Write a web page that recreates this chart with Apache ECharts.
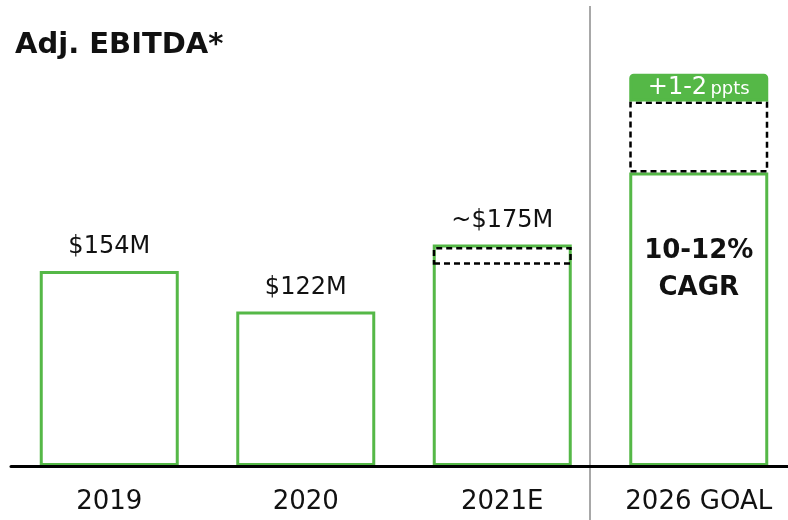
<!DOCTYPE html>
<html>
<head>
<meta charset="utf-8">
<title>Adj. EBITDA</title>
<script src="https://cdn.jsdelivr.net/npm/echarts@6/dist/echarts.min.js"></script>
<style>
  html, body { margin: 0; padding: 0; background: #ffffff; }
  #chart { width: 788px; height: 520px; }
</style>
</head>
<body>
<div id="chart"></div>
<script>
// Adj. EBITDA by year, $M
const categories = ['2019', '2020', '2021E', '2026 GOAL'];
const ebitda = [154, 122, 175, 232];          // solid outlined bars
const valueLabels = ['$154M', '$122M', '~$175M', ''];
const estimateLow = ['-', '-', 159, 232];      // dashed estimate range, lower end
const estimateHigh = ['-', '-', 173, 288];     // dashed estimate range, upper end
const upliftHigh = ['-', '-', '-', 310];       // top of the "+1-2 ppts" uplift band
const goalText = ['10-12%', 'CAGR'];
const upliftText = ['+1-2', 'ppts'];

const GREEN = '#55b847';
const INK = '#111111';
const FONT = '"DejaVu Sans", "Noto Sans", sans-serif';
const BAR_W = 139;

const estimateSpan = estimateLow.map((v, i) =>
  v === '-' ? '-' : estimateHigh[i] - v);
const upliftSpan = upliftHigh.map((v, i) =>
  v === '-' ? '-' : v - estimateHigh[i]);

const mainData = ebitda.map((v, i) => {
  if (i === categories.length - 1) {
    return {
      value: v,
      label: {
        show: true,
        position: ['50%', 60],
        align: 'center',
        verticalAlign: 'top',
        formatter: goalText.join('\n'),
        fontFamily: FONT,
        fontWeight: 'bold',
        fontSize: 26,
        lineHeight: 37,
        color: INK
      }
    };
  }
  return v;
});

const chart = echarts.init(document.getElementById('chart'), null, { renderer: 'canvas' });

chart.setOption({
  animation: false,
  backgroundColor: '#ffffff',
  title: {
    text: 'Adj. EBITDA*',
    left: 10,
    top: 26,
    textStyle: { fontFamily: FONT, fontWeight: 'bold', fontSize: 29, color: INK }
  },
  grid: { left: 11, top: 61, bottom: 54, width: 786, outerBoundsMode: 'none', containLabel: false },
  xAxis: {
    type: 'category',
    data: categories,
    z: 10,
    axisLine: { lineStyle: { color: '#000000', width: 3 } },
    axisTick: { show: false },
    axisLabel: { margin: 23, fontFamily: FONT, fontSize: 26, color: INK }
  },
  yAxis: {
    type: 'value',
    min: 0,
    max: 320,
    show: false,
    splitLine: { show: false }
  },
  graphic: [{
    type: 'line',
    z: 0,
    shape: { x1: 590, y1: 6, x2: 590, y2: 520 },
    style: { stroke: '#a8a8a8', lineWidth: 2 }
  }],
  series: [
    {
      name: 'Adj. EBITDA',
      type: 'bar',
      barWidth: BAR_W,
      barGap: '-100%',
      data: mainData,
      itemStyle: { color: '#ffffff', borderColor: GREEN, borderWidth: 3 },
      label: {
        show: true,
        position: 'top',
        distance: 12,
        fontFamily: FONT,
        fontSize: 24,
        color: INK,
        formatter: p => valueLabels[p.dataIndex]
      }
    },
    {
      name: 'base',
      type: 'bar',
      stack: 'range',
      barWidth: BAR_W,
      barGap: '-100%',
      silent: true,
      data: estimateLow,
      itemStyle: { color: 'transparent', borderWidth: 0 }
    },
    {
      name: 'Estimate range',
      type: 'bar',
      stack: 'range',
      barWidth: BAR_W,
      barGap: '-100%',
      data: estimateSpan,
      itemStyle: {
        color: 'rgba(255,255,255,0)',
        borderColor: '#000000',
        borderWidth: 2.5,
        borderType: [6, 4]
      }
    },
    {
      name: 'Uplift',
      type: 'bar',
      stack: 'range',
      barWidth: BAR_W,
      barGap: '-100%',
      data: upliftSpan,
      itemStyle: {
        color: GREEN,
        borderColor: GREEN,
        borderWidth: 3,
        borderRadius: [3, 3, 0, 0]
      },
      label: {
        show: true,
        position: 'inside',
        formatter: '{a|' + upliftText[0] + '} {b|' + upliftText[1] + '}',
        rich: {
          a: { fontFamily: FONT, fontSize: 24, color: '#ffffff' },
          b: { fontFamily: FONT, fontSize: 18, color: '#ffffff', padding: [3, 0, 0, 0] }
        }
      }
    }
  ]
});
</script>
</body>
</html>
